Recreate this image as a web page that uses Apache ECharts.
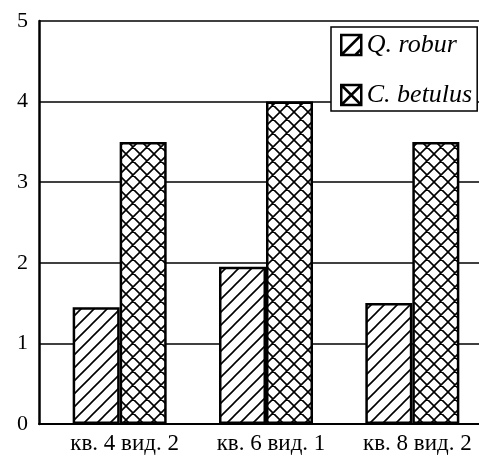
<!DOCTYPE html>
<html>
<head>
<meta charset="utf-8">
<script src="https://cdn.jsdelivr.net/npm/echarts@6/dist/echarts.min.js"></script>
<style>
  html, body { margin: 0; padding: 0; background: #fff; }
  #chart { width: 479px; height: 459px; }
</style>
</head>
<body>
<div id="chart"></div>
<script>
var categories = ["кв. 4 вид. 2", "кв. 6 вид. 1", "кв. 8 вид. 2"];
var seriesNames = ["Q. robur", "C. betulus"];
var robur = [1.45, 1.95, 1.5];
var betulus = [3.5, 4.0, 3.5];
var yTicks = [0, 1, 2, 3, 4, 5];

var serif = '"Liberation Serif", "Times New Roman", serif';

// hatch tiles for the bars
function hatch(size, cross) {
  var c = document.createElement("canvas");
  c.width = size; c.height = size;
  var ctx = c.getContext("2d");
  ctx.fillStyle = "#fff";
  ctx.fillRect(0, 0, size, size);
  ctx.strokeStyle = "#000";
  ctx.lineWidth = 1.6;
  ctx.beginPath();
  // "/" lines
  ctx.moveTo(-2, size + 2); ctx.lineTo(size + 2, -2);
  ctx.moveTo(-2, 2); ctx.lineTo(2, -2);
  ctx.moveTo(size - 2, size + 2); ctx.lineTo(size + 2, size - 2);
  if (cross) {
    ctx.moveTo(-2, -2); ctx.lineTo(size + 2, size + 2);
    ctx.moveTo(size - 2, -2); ctx.lineTo(size + 2, 2);
    ctx.moveTo(-2, size - 2); ctx.lineTo(2, size + 2);
  }
  ctx.stroke();
  return c;
}

var chart = echarts.init(document.getElementById("chart"));

var option = {
  animation: false,
  backgroundColor: "#fff",
  grid: [
    { left: 39, right: 0, top: 21, bottom: 35, outerBoundsMode: "none" },
    { left: 46.5, width: 439, top: 21, bottom: 35, outerBoundsMode: "none" }
  ],
  xAxis: [
    {
      gridIndex: 0, type: "value", min: 0, max: 1,
      axisLine: { show: true, lineStyle: { color: "#000", width: 2 } },
      axisTick: { show: false }, axisLabel: { show: false }, splitLine: { show: false }
    },
    {
      gridIndex: 1, type: "category", data: categories,
      axisLine: { show: false }, axisTick: { show: false },
      axisLabel: {
        color: "#000", fontFamily: serif, fontSize: 23, margin: 8,
        padding: [0, 0, 0, 10]
      }
    }
  ],
  yAxis: [
    {
      gridIndex: 0, type: "value", min: yTicks[0], max: yTicks[yTicks.length - 1], interval: 1,
      axisLine: { show: true, lineStyle: { color: "#000", width: 2.5 } },
      axisTick: { show: false },
      axisLabel: { color: "#000", fontFamily: serif, fontSize: 22, margin: 11 },
      splitLine: { show: true, lineStyle: { color: "#000", width: 1.5 } }
    },
    {
      gridIndex: 1, type: "value", min: 0, max: 5, show: false
    }
  ],
  legend: {
    orient: "vertical",
    left: 331, top: 27,
    padding: [5, 5, 3, 9],
    itemWidth: 21, itemHeight: 20, itemGap: 24,
    backgroundColor: "#fff",
    borderColor: "#000", borderWidth: 1.5, borderRadius: 0,
    textStyle: { color: "#000", fontFamily: serif, fontStyle: "italic", fontSize: 26, lineHeight: 26 },
    data: [
      {
        name: seriesNames[0],
        icon: "path://M0 0H20V20H0Z M0 20L20 0 M14 20L20 14",
        itemStyle: { color: "#fff", borderColor: "#000", borderWidth: 2.5 }
      },
      {
        name: seriesNames[1],
        icon: "path://M0 0H20V20H0Z M0 20L20 0 M0 0L20 20",
        itemStyle: { color: "#fff", borderColor: "#000", borderWidth: 2.5 }
      }
    ]
  },
  series: [
    {
      name: seriesNames[0], type: "bar", xAxisIndex: 1, yAxisIndex: 1,
      data: robur, barWidth: 47, barGap: "0%",
      itemStyle: { color: { image: hatch(13, false), repeat: "repeat" }, borderColor: "#000", borderWidth: 2.5 }
    },
    {
      name: seriesNames[1], type: "bar", xAxisIndex: 1, yAxisIndex: 1,
      data: betulus, barWidth: 47, barGap: "0%",
      itemStyle: { color: { image: hatch(14, true), repeat: "repeat" }, borderColor: "#000", borderWidth: 2.5 }
    }
  ]
};

chart.setOption(option);
</script>
</body>
</html>
